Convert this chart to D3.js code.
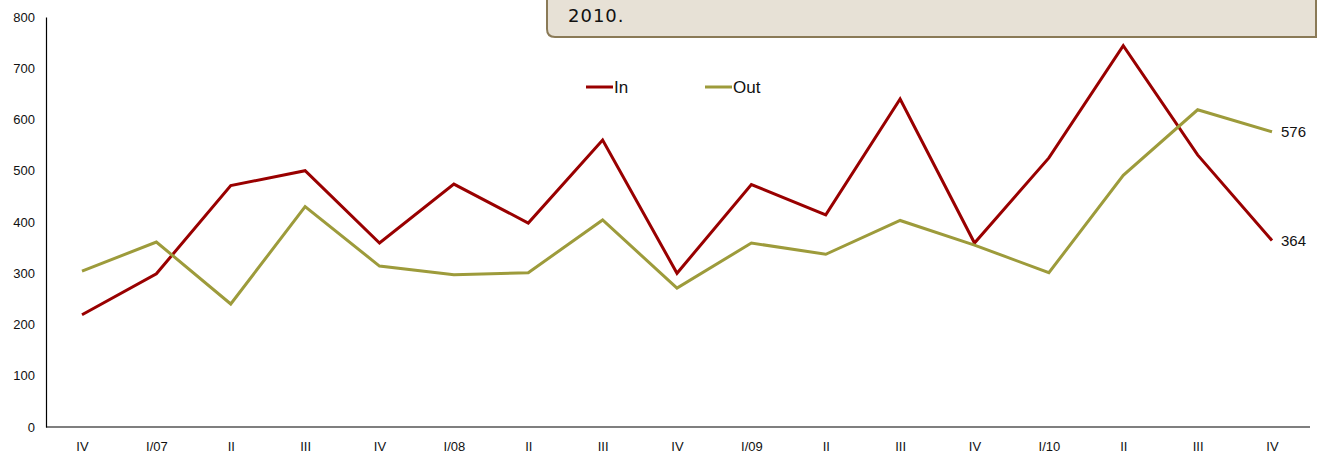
<!DOCTYPE html>
<html>
<head>
<meta charset="utf-8">
<script src="https://cdn.jsdelivr.net/npm/d3@7.9.0/dist/d3.min.js"></script>
<style>
  body { margin: 0; background: #fff; }
  svg { display: block; font-family: "Liberation Sans", Arial, sans-serif; }
</style>
</head>
<body>
<script>
// Quarter labels
const quarters = ["IV", "I/07", "II", "III", "IV", "I/08", "II", "III", "IV", "I/09", "II", "III", "IV", "I/10", "II", "III", "IV"];

// Series values
const inValues  = [219, 299, 471, 500, 359, 474, 398, 560, 300, 473, 414, 640, 359, 525, 744, 531, 364];
const outValues = [304, 361, 240, 430, 314, 297, 301, 404, 271, 359, 337, 403, 355, 301, 491, 619, 576];

const yTicks = [0, 100, 200, 300, 400, 500, 600, 700, 800];

const series = [
  { name: "In",  values: inValues,  color: "#990000" },
  { name: "Out", values: outValues, color: "#9d9b3b" }
];

const width = 1317, height = 453;
const margin = { top: 17, right: 7, bottom: 26, left: 46 };

const svg = d3.select("body").append("svg")
  .attr("width", width)
  .attr("height", height);

// Note box at the top (partly cut off)
svg.append("path")
  .attr("d", "M547,-10 L547,29 Q547,37 555,37 L1316,37 L1316,-10")
  .attr("fill", "#e7e1d6")
  .attr("stroke", "#8a7a57")
  .attr("stroke-width", 2);

svg.append("text")
  .attr("x", 568)
  .attr("y", 22)
  .style("font-family", "'DejaVu Sans', Verdana, sans-serif")
  .style("font-size", "18px")
  .style("letter-spacing", "1px")
  .attr("fill", "#111")
  .text("2010.");

// Points sit at 82 ... 1272, axis runs 46 ... 1310
const x = d3.scalePoint()
  .domain(d3.range(quarters.length))
  .range([82, 1272]);

const y = d3.scaleLinear()
  .domain([0, 800])
  .range([height - margin.bottom, margin.top]);

// Y axis
const yAxis = svg.append("g")
  .attr("transform", `translate(${margin.left},0)`)
  .call(d3.axisLeft(y).tickValues(yTicks).tickSize(0).tickPadding(11));
yAxis.select(".domain").attr("stroke", "#000").attr("stroke-width", 1.2);
yAxis.selectAll("text").style("font-size", "13px").attr("fill", "#111")
  .style("font-family", "'Liberation Sans', Arial, sans-serif");

// X axis
const xAxis = svg.append("g")
  .attr("transform", `translate(0,${height - margin.bottom})`)
  .call(d3.axisBottom(x).tickSize(0).tickPadding(15).tickFormat(i => quarters[i]));
xAxis.select(".domain").attr("stroke", "#000").attr("stroke-width", 1.2)
  .attr("d", `M${margin.left},0H${width - margin.right}`);
xAxis.selectAll("text").style("font-size", "13px").attr("fill", "#111")
  .style("font-family", "'Liberation Sans', Arial, sans-serif");

// Lines
const line = d3.line()
  .x((d, i) => x(i))
  .y(d => y(d));

series.forEach(s => {
  svg.append("path")
    .datum(s.values)
    .attr("fill", "none")
    .attr("stroke", s.color)
    .attr("stroke-width", 3)
    .attr("stroke-linejoin", "miter")
    .attr("d", line);

  const last = s.values.length - 1;
  svg.append("text")
    .attr("x", x(last) + 9)
    .attr("y", y(s.values[last]))
    .attr("dy", "0.35em")
    .style("font-size", "15px")
    .attr("fill", "#111")
    .text(s.values[last]);
});

// Legend
const legend = svg.append("g").attr("transform", "translate(586,87)");
series.forEach((s, i) => {
  const g = legend.append("g").attr("transform", `translate(${i * 119},0)`);
  g.append("line")
    .attr("x1", 0).attr("x2", 27)
    .attr("y1", 0).attr("y2", 0)
    .attr("stroke", s.color)
    .attr("stroke-width", 3);
  g.append("text")
    .attr("x", 28)
    .attr("y", 0)
    .attr("dy", "0.35em")
    .style("font-size", "17px")
    .attr("fill", "#111")
    .text(s.name);
});
</script>
</body>
</html>
